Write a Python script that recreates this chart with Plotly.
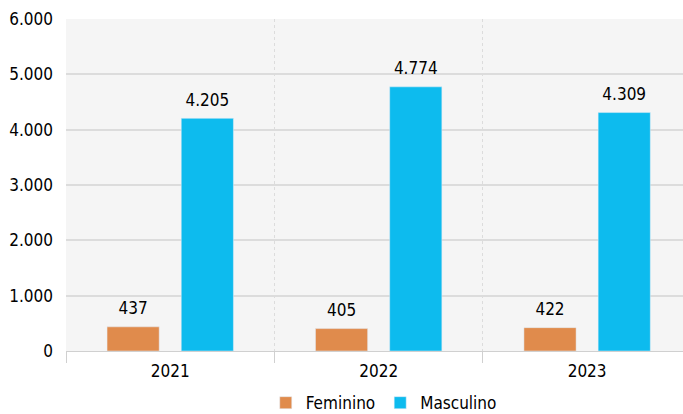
import plotly.graph_objects as go

years = ["2021", "2022", "2023"]
feminino = [437, 405, 422]
masculino = [4205, 4774, 4309]
y_ticks = [0, 1000, 2000, 3000, 4000, 5000, 6000]

FONT = "DejaVu Sans Condensed, Liberation Sans Narrow, sans-serif"

fig = go.Figure()
fig.add_trace(go.Bar(name="Feminino", x=years, y=feminino, marker_color="#e08b4c",
                     offsetgroup="F", hoverinfo="skip"))
fig.add_trace(go.Bar(name="Masculino", x=years, y=masculino, marker_color="#0dbbee",
                     offsetgroup="M", hoverinfo="skip"))
for name, series in (("F", feminino), ("M", masculino)):
    fig.add_trace(go.Scatter(x=years, y=series, mode="markers+text", offsetgroup=name,
                             texttemplate="%{y:,.0f}", textposition="top center",
                             marker=dict(size=12, color="rgba(0,0,0,0)"),
                             textfont=dict(size=17, color="#000", family=FONT),
                             showlegend=False, hoverinfo="skip", cliponaxis=False))

fig.update_layout(
    width=683, height=414,
    margin=dict(l=66, r=0, t=19, b=63, autoexpand=False),
    paper_bgcolor="white", plot_bgcolor="#f5f5f5",
    separators=",.",
    barmode="group", bargap=0.288, bargroupgap=0.297,
    scattermode="group", scattergap=0.288,
    font=dict(family=FONT, size=16, color="#000"),
    showlegend=True,
    legend=dict(orientation="h", x=0.515, xanchor="center", y=-0.157, yanchor="middle",
                font=dict(size=17), traceorder="normal"),
    xaxis=dict(type="category", range=[-0.5, 2.46], tickson="boundaries", automargin=False,
               ticks="outside", ticklen=11, tickcolor="#d0d0d0", tickwidth=1,
               showline=True, linecolor="#d0d0d0", linewidth=1,
               showgrid=True, gridcolor="#dcdcdc", griddash="dot", gridwidth=1,
               tickfont=dict(size=17), ticklabelstandoff=5),
    yaxis=dict(range=[0, 6000], tickvals=y_ticks, tickformat=",.0f", automargin=False,
               showgrid=True, gridcolor="#dcdcdc", gridwidth=2,
               zeroline=False, ticks="", tickfont=dict(size=17), ticklabelstandoff=12),
)

fig.write_html("out.html", config={"displayModeBar": False},
               post_script="document.body.style.margin='0';")
